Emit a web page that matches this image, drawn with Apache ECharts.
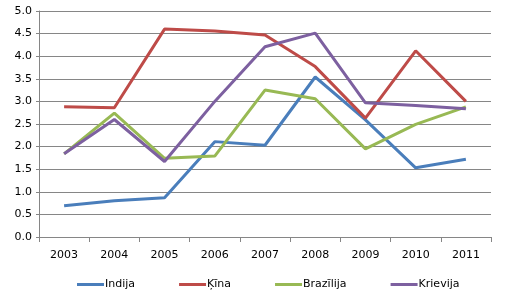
<!DOCTYPE html>
<html><head><meta charset="utf-8">
<script src="https://cdn.jsdelivr.net/npm/echarts@6/dist/echarts.min.js"></script>
<style>html,body{margin:0;padding:0;background:#fff}#c{width:510px;height:299px}</style>
</head><body><div id="c"></div>
<script>
const years = ['2003','2004','2005','2006','2007','2008','2009','2010','2011'];
const indija = [0.69, 0.80, 0.87, 2.11, 2.03, 3.54, 2.59, 1.53, 1.72];
const kina = [2.88, 2.86, 4.60, 4.56, 4.47, 3.77, 2.63, 4.12, 3.00];
const brazilija = [1.84, 2.74, 1.74, 1.79, 3.25, 3.06, 1.95, 2.49, 2.88];
const krievija = [1.84, 2.60, 1.67, 3.00, 4.21, 4.51, 2.97, 2.91, 2.84];
const names = ['Indija','Ķīna','Brazīlija','Krievija'];
const colors = ['#4A7EBB','#BE4B48','#98B954','#7D60A0'];
const data = [indija, kina, brazilija, krievija];
const font = 'DejaVu Sans, Verdana, sans-serif';
const chart = echarts.init(document.getElementById('c'));
chart.setOption({
  animation:false,
  color: colors,
  grid:{left:39,right:19,top:11,bottom:62},
  legend:{top:274,left:72,itemWidth:27,itemHeight:3,itemGap:44,icon:'rect',
    textStyle:{fontFamily:font,fontSize:11,color:'#000',padding:[0,0,0,-4]},data:names},
  xAxis:{type:'category',data:years,boundaryGap:true,
    axisLine:{lineStyle:{color:'#868686'}},
    axisTick:{show:true,inside:false,length:5,lineStyle:{color:'#868686'}},
    axisLabel:{fontFamily:font,fontSize:11,color:'#000',margin:13}},
  yAxis:{type:'value',min:0,max:5,interval:0.5,
    axisLine:{show:true,lineStyle:{color:'#868686'}},
    axisTick:{show:true,length:3,lineStyle:{color:'#868686'}},
    splitLine:{lineStyle:{color:'#868686'}},
    axisLabel:{fontFamily:font,fontSize:11,color:'#000',margin:7,formatter:v=>v.toFixed(1)}},
  series: data.map((d,i)=>({name:names[i],type:'line',data:d,symbol:'none',
    lineStyle:{width:3,color:colors[i]}}))
});
</script></body></html>
